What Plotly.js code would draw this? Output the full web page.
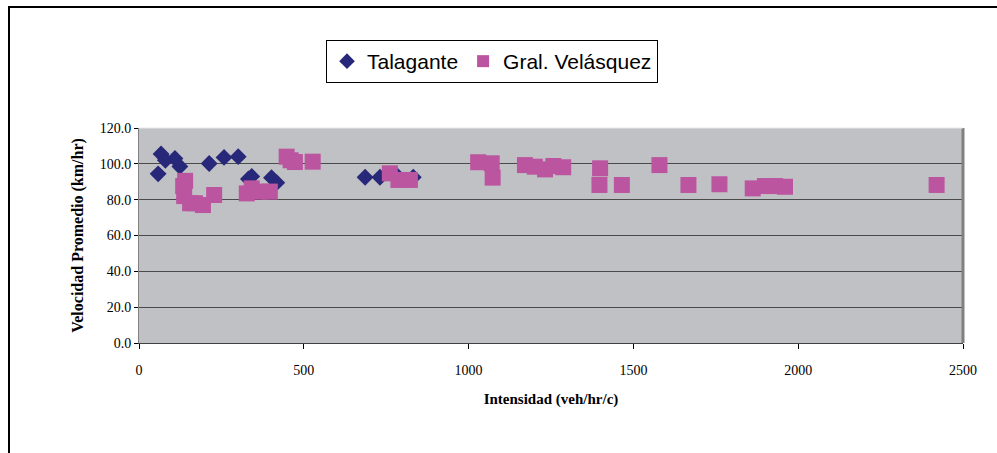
<!DOCTYPE html>
<html>
<head>
<meta charset="utf-8">
<script src="https://cdn.plot.ly/plotly-3.0.1.min.js"></script>
<style>html,body{margin:0;padding:0;background:#fff;}#chart{width:997px;height:453px;}</style>
</head>
<body>
<div id="chart"></div>
<script>
// Talagante
const talaganteX = [58, 67, 80, 109, 124, 213, 258, 301, 332, 342, 402, 418, 686, 731, 782, 832];
const talaganteY = [94.4, 105.5, 102.0, 103.0, 98.5, 100.2, 103.6, 104.0, 91.5, 93.0, 92.3, 89.5, 92.5, 92.5, 93.5, 92.5];
// Gral. Velásquez
const velasquezX = [134, 140, 137, 155, 170, 194, 228, 327, 342, 367, 397, 448, 460, 473, 527, 761, 787, 822, 1029, 1070, 1073, 1171, 1201, 1232, 1257, 1287, 1397, 1399, 1465, 1579, 1667, 1761, 1862, 1899, 1930, 1960, 2420];
const velasquezY = [87.6, 90.5, 82.0, 78.0, 78.0, 77.0, 82.6, 83.5, 86.3, 84.5, 84.5, 104.0, 102.0, 101.0, 101.2, 94.7, 91.0, 91.0, 100.9, 100.3, 92.3, 99.3, 98.4, 96.9, 98.8, 98.1, 88.2, 97.5, 88.2, 99.3, 88.2, 88.6, 86.3, 87.6, 87.6, 87.2, 88.2];
const xTicks = [0, 500, 1000, 1500, 2000, 2500];
const yTicks = [0, 20, 40, 60, 80, 100, 120];

const serif = 'Times New Roman, Liberation Serif, serif';

const traces = [
  {x: talaganteX, y: talaganteY, name: 'Talagante', type: 'scatter', mode: 'markers',
   marker: {symbol: 'diamond', size: 13, color: '#28287a'}},
  {x: velasquezX, y: velasquezY, name: 'Gral. Velásquez', type: 'scatter', mode: 'markers',
   marker: {symbol: 'square', size: 16, color: '#bb55a0'}}
];

const L = 139, R = 963, T = 128, B = 343, W = 997, H = 453;
const pw = R - L, ph = B - T;
const px = p => (p - L) / pw;
const py = p => (B - p) / ph;

const layout = {
  width: W, height: H,
  margin: {l: L, r: W - R, t: T, b: H - B, pad: 0},
  paper_bgcolor: '#ffffff',
  plot_bgcolor: '#c0c1c4',
  showlegend: true,
  legend: {
    orientation: 'h', x: px(326), y: py(40), xanchor: 'left', yanchor: 'top',
    bgcolor: '#ffffff', bordercolor: '#000000', borderwidth: 1,
    font: {family: 'Arial, Liberation Sans, sans-serif', size: 21, color: '#000'},
    itemsizing: 'constant', traceorder: 'normal', itemwidth: 30, tracegroupgap: 0
  },
  xaxis: {
    range: [0, 2500], tickvals: xTicks, ticktext: xTicks.map(String),
    showgrid: false, zeroline: false,
    showline: true, linecolor: '#404040', linewidth: 1, mirror: false,
    ticks: 'outside', ticklen: 5, tickcolor: '#000', ticklabelstandoff: 9,
    tickfont: {family: serif, size: 14, color: '#000'},
    title: {text: 'Intensidad (veh/hr/c)', standoff: 16,
            font: {family: serif, size: 15, color: '#000', weight: 'bold'}}
  },
  yaxis: {
    range: [0, 120], tickvals: yTicks, ticktext: yTicks.map(v => v.toFixed(1)),
    showgrid: true, gridcolor: '#4a4a4a', gridwidth: 1, zeroline: false,
    showline: true, linecolor: '#808080', linewidth: 1,
    ticks: 'outside', ticklen: 4, tickcolor: '#000',
    tickfont: {family: serif, size: 14, color: '#000'},
    title: {text: 'Velocidad Promedio (km/hr)', standoff: 12,
            font: {family: serif, size: 16, color: '#000', weight: 'bold'}}
  },
  shapes: [
    {type: 'rect', xref: 'paper', yref: 'paper', x0: px(9), x1: px(1060), y0: py(520), y1: py(7),
     line: {color: '#000', width: 2}, fillcolor: 'rgba(0,0,0,0)', layer: 'below'},
    {type: 'line', xref: 'paper', yref: 'paper', x0: 1, x1: 1, y0: 0, y1: 1,
     line: {color: '#808080', width: 3}},
    {type: 'line', xref: 'paper', yref: 'paper', x0: 0, x1: 1, y0: 1, y1: 1,
     line: {color: '#e8e8e8', width: 1}}
  ]
};

Plotly.newPlot('chart', traces, layout, {displayModeBar: false, staticPlot: true});
</script>
</body>
</html>
